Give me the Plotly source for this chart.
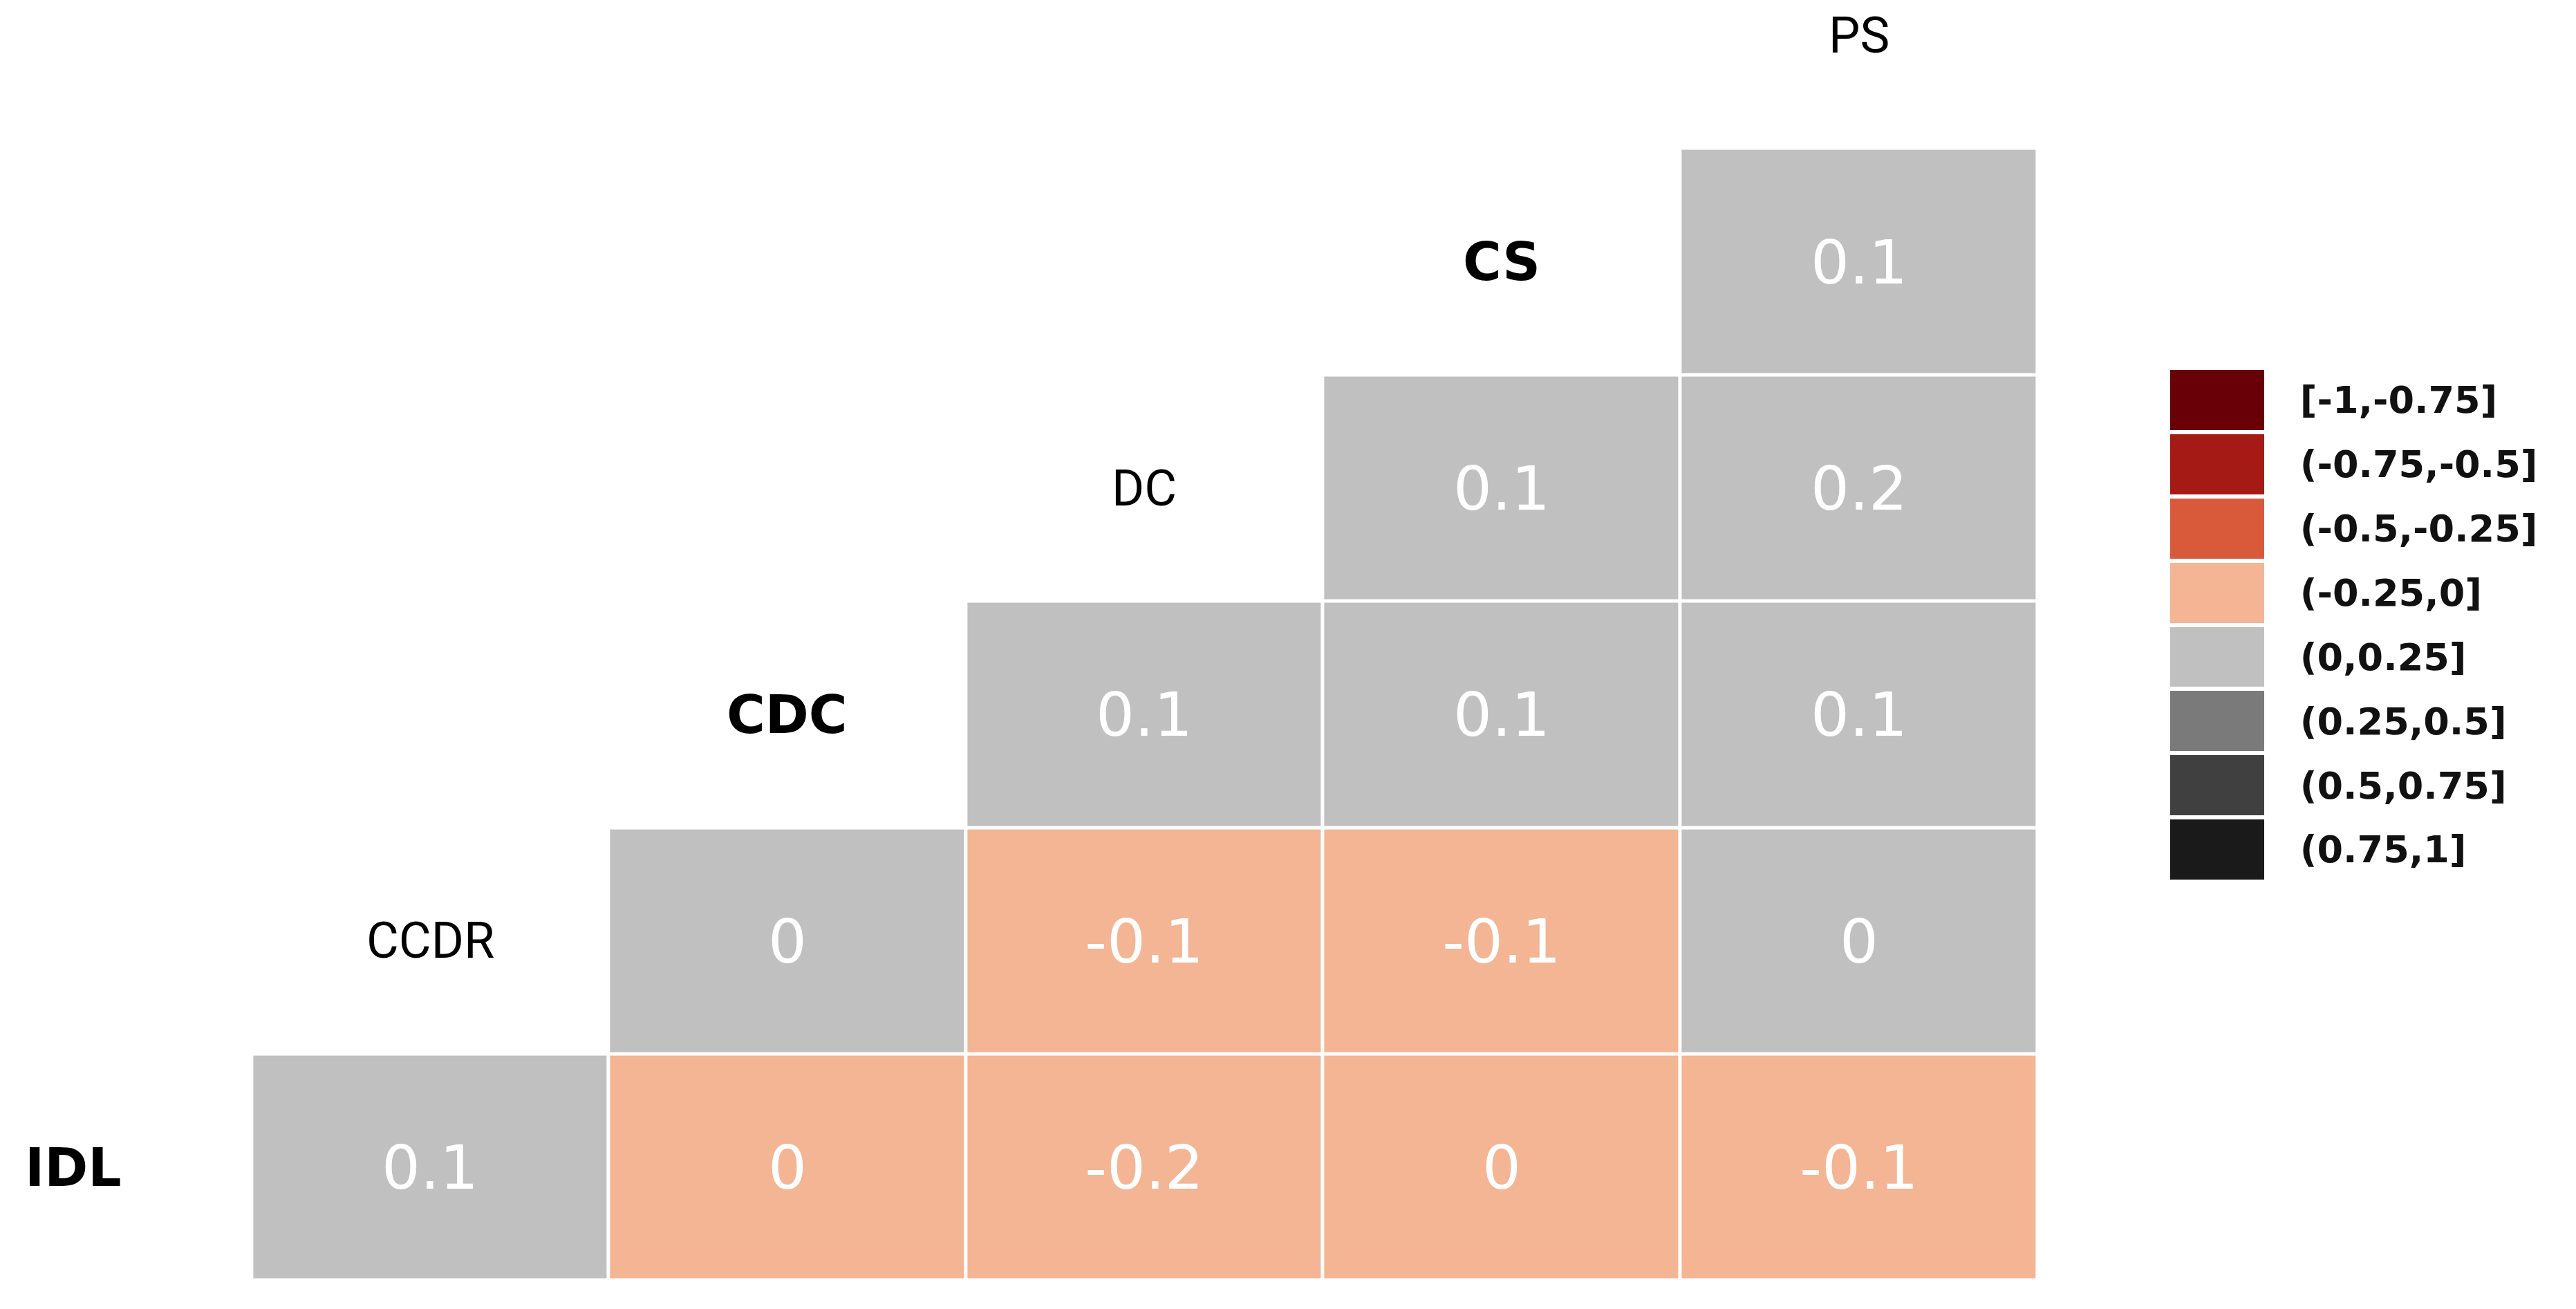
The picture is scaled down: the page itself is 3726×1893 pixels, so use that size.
import plotly.graph_objects as go

# ---------------- data ----------------
variables = ["IDL", "CCDR", "CDC", "DC", "CS", "PS"]   # column order (left -> right)
label_bold = [True, False, True, False, True, False]

# rows from top to bottom: each row variable vs the variables to its right
row_vars = ["CS", "DC", "CDC", "CCDR", "IDL"]
row_values = [
    ["0.1"],
    ["0.1", "0.2"],
    ["0.1", "0.1", "0.1"],
    ["0", "-0.1", "-0.1", "0"],
    ["0.1", "0", "-0.2", "0", "-0.1"],
]
row_bins = [
    ["(0,0.25]"],
    ["(0,0.25]", "(0,0.25]"],
    ["(0,0.25]", "(0,0.25]", "(0,0.25]"],
    ["(0,0.25]", "(-0.25,0]", "(-0.25,0]", "(0,0.25]"],
    ["(0,0.25]", "(-0.25,0]", "(-0.25,0]", "(-0.25,0]", "(-0.25,0]"],
]

bin_labels = ["[-1,-0.75]", "(-0.75,-0.5]", "(-0.5,-0.25]", "(-0.25,0]",
              "(0,0.25]", "(0.25,0.5]", "(0.5,0.75]", "(0.75,1]"]
bin_colors = ["#690008", "#A51A15", "#D95A3A", "#F3B593",
              "#C0C0C0", "#7A7A7A", "#404040", "#1A1A1A"]

# ---------------- build grid ----------------
n = len(variables)
z = [[None] * n for _ in range(n)]
txt = [[""] * n for _ in range(n)]
for vals, bins, rv in zip(row_values, row_bins, row_vars):
    r = n - 1 - variables.index(rv)          # row index from top
    start = n - len(vals)
    for k, (v, b) in enumerate(zip(vals, bins)):
        c = start + k
        z[r][c] = bin_labels.index(b)
        txt[r][c] = v

nb = len(bin_labels)
colorscale = []
for i, col in enumerate(bin_colors):
    colorscale.append([i / nb, col])
    colorscale.append([(i + 1) / nb, col])

W, H = 3726, 1893
fig = go.Figure()

fig.add_trace(go.Heatmap(
    z=z, x=list(range(n)), y=list(range(n)),
    text=txt, texttemplate="%{text}",
    textfont=dict(family="DejaVu Sans", size=88, color="white"),
    colorscale=colorscale, zmin=-0.5, zmax=nb - 0.5, showscale=False,
    xgap=5, ygap=5, hoverinfo="skip",
    xaxis="x", yaxis="y",
))

# legend as a one-column heatmap
fig.add_trace(go.Heatmap(
    z=[[i] for i in range(nb)], x=[0], y=bin_labels,
    colorscale=colorscale, zmin=-0.5, zmax=nb - 0.5, showscale=False,
    ygap=6, hoverinfo="skip",
    xaxis="x2", yaxis="y2",
))

# diagonal variable labels
for i, (v, b) in enumerate(zip(variables, label_bold)):
    r = n - 1 - i
    fig.add_annotation(
        x=i, y=r, xref="x", yref="y", text=v, showarrow=False,
        font=dict(family="DejaVu Sans" if b else "Liberation Sans Narrow, Roboto",
                  size=76 if b else 72, color="black",
                  weight="bold" if b else "normal"),
        xanchor="center", yanchor="middle",
    )

x_right = 2939 / W
fig.update_layout(
    width=W, height=H,
    margin=dict(l=0, r=0, t=0, b=0),
    paper_bgcolor="white", plot_bgcolor="white",
    xaxis=dict(domain=[0, x_right], range=[-0.189, 5.5], visible=False),
    yaxis=dict(domain=[49 / H, 1.0], range=[5.5, -0.132], visible=False),
    xaxis2=dict(domain=[3131 / W, 3267 / W], range=[-0.5, 0.5], visible=False),
    yaxis2=dict(domain=[(H - 1267) / H, (H - 524) / H], autorange="reversed",
                side="right", anchor="x2", showgrid=False, zeroline=False,
                showline=False, ticks="outside", ticklen=40,
                tickcolor="rgba(0,0,0,0)",
                tickfont=dict(family="DejaVu Sans", size=54, color="#111111",
                              weight="bold")),
    showlegend=False,
)

fig.write_html("out.html")
